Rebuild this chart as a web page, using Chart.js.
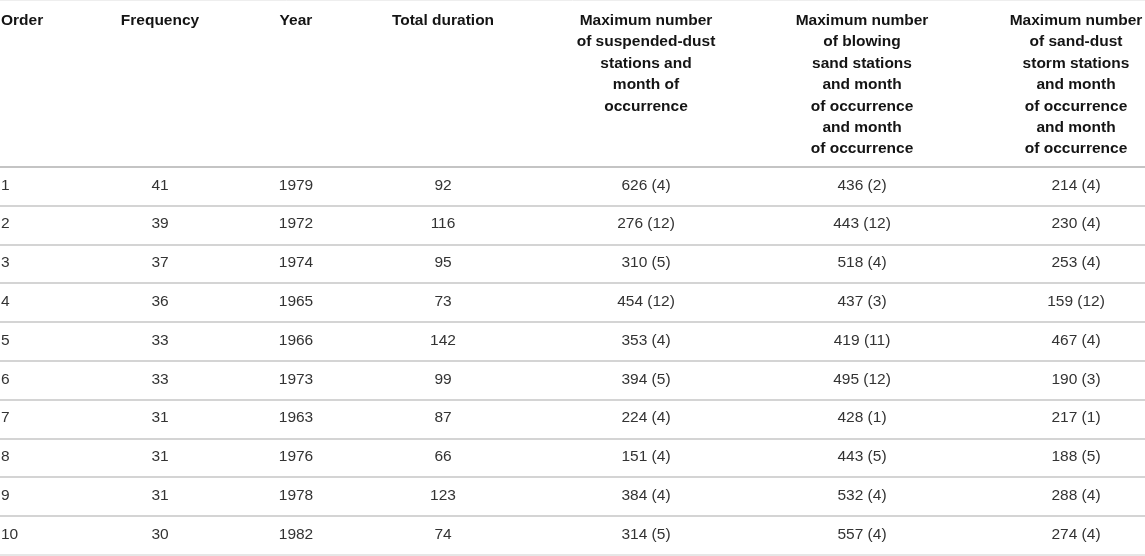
<!DOCTYPE html>
<html lang="en">
<head>
    <meta charset="UTF-8">
    <title>Top 10 sand-dust years</title>
    <script src="https://cdn.jsdelivr.net/npm/chart.js"></script>
    <style>
        html, body {
            margin: 0;
            padding: 0;
            background: #ffffff;
        }
        .wrap {
            position: relative;
            width: 1145px;
            height: 556px;
        }
    </style>
</head>
<body>
    <div class="wrap">
        <canvas id="tableChart"></canvas>
    </div>

    <script>
        // table values
        const orders = ['1', '2', '3', '4', '5', '6', '7', '8', '9', '10'];
        const frequency = [41, 39, 37, 36, 33, 33, 31, 31, 31, 30];
        const years = [1979, 1972, 1974, 1965, 1966, 1973, 1963, 1976, 1978, 1982];
        const totalDuration = [92, 116, 95, 73, 142, 99, 87, 66, 123, 74];
        const dustStations = [626, 276, 310, 454, 353, 394, 224, 151, 384, 314];
        const dustMonth = [4, 12, 5, 12, 4, 5, 4, 4, 4, 5];
        const sandStations = [436, 443, 518, 437, 419, 495, 428, 443, 532, 557];
        const sandMonth = [2, 12, 4, 3, 11, 12, 1, 5, 4, 4];
        const stormStations = [214, 230, 253, 159, 467, 190, 217, 188, 288, 274];
        const stormMonth = [4, 4, 4, 12, 4, 3, 1, 5, 4, 4];

        const headers = [
            ['Order'],
            ['Frequency'],
            ['Year'],
            ['Total duration'],
            ['Maximum number', 'of suspended-dust', 'stations and', 'month of', 'occurrence'],
            ['Maximum number', 'of blowing', 'sand stations', 'and month', 'of occurrence', 'and month', 'of occurrence'],
            ['Maximum number', 'of sand-dust', 'storm stations', 'and month', 'of occurrence', 'and month', 'of occurrence']
        ];

        // layout: where each column sits on the x scale (0..1145)
        const colX = [1, 160, 296, 443, 646, 862, 1076];
        const headerHeight = 167;
        const headFirstBaseline = 25;
        const headLineGap = 21.4;
        const fontFamily = '"Liberation Sans", Arial, Helvetica, sans-serif';

        const withMonth = (vals, months) => vals.map((v, i) => v + ' (' + months[i] + ')');
        const columns = [
            orders,
            frequency.map(String),
            years.map(String),
            totalDuration.map(String),
            withMonth(dustStations, dustMonth),
            withMonth(sandStations, sandMonth),
            withMonth(stormStations, stormMonth)
        ];

        const datasets = columns.map((texts, c) => ({
            label: headers[c].join(' '),
            cellText: texts,
            data: orders.map(o => ({ x: colX[c], y: o })),
            pointRadius: 0,
            pointHoverRadius: 0
        }));

        const tablePlugin = {
            id: 'tableText',
            beforeDraw(chart) {
                const ctx = chart.ctx;
                ctx.save();
                ctx.strokeStyle = '#eeeeee';
                ctx.lineWidth = 1;
                ctx.beginPath();
                ctx.moveTo(0, 0.5);
                ctx.lineTo(chart.width, 0.5);
                ctx.stroke();
                ctx.restore();
            },
            afterDatasetsDraw(chart) {
                const ctx = chart.ctx;
                const xs = chart.scales.x;
                ctx.save();

                // header block
                ctx.fillStyle = '#141414';
                ctx.font = 'bold 15.5px ' + fontFamily;
                ctx.textBaseline = 'alphabetic';
                headers.forEach((lines, c) => {
                    ctx.textAlign = c === 0 ? 'left' : 'center';
                    const px = xs.getPixelForValue(colX[c]);
                    lines.forEach((t, k) => {
                        ctx.fillText(t, px, headFirstBaseline + k * headLineGap);
                    });
                });

                // body cells, placed on the points of each column dataset
                ctx.fillStyle = '#333333';
                ctx.font = '15.5px ' + fontFamily;
                ctx.textBaseline = 'middle';
                chart.data.datasets.forEach((ds, c) => {
                    const meta = chart.getDatasetMeta(c);
                    ctx.textAlign = c === 0 ? 'left' : 'center';
                    meta.data.forEach((pt, i) => {
                        ctx.fillText(ds.cellText[i], pt.x, pt.y - 1);
                    });
                });
                ctx.restore();
            }
        };

        new Chart(document.getElementById('tableChart'), {
            type: 'scatter',
            data: { labels: orders, datasets: datasets },
            options: {
                responsive: true,
                maintainAspectRatio: false,
                animation: false,
                events: [],
                layout: { padding: { top: headerHeight, bottom: 1, left: 0, right: 0 } },
                plugins: {
                    legend: { display: false },
                    tooltip: { enabled: false }
                },
                scales: {
                    x: {
                        type: 'linear',
                        min: 0,
                        max: 1145,
                        display: false
                    },
                    y: {
                        type: 'category',
                        labels: orders,
                        offset: true,
                        border: { display: false },
                        ticks: { display: false },
                        grid: {
                            offset: true,
                            drawTicks: false,
                            lineWidth: 2,
                            color: ctx => {
                                if (ctx.type !== 'tick') return '#e6e6e6';
                                return ctx.index === 0 ? '#c4c4c4' : '#d4d4d4';
                            }
                        },
                        afterFit(scale) { scale.width = 0; }
                    }
                }
            },
            plugins: [tablePlugin]
        });
    </script>
</body>
</html>
